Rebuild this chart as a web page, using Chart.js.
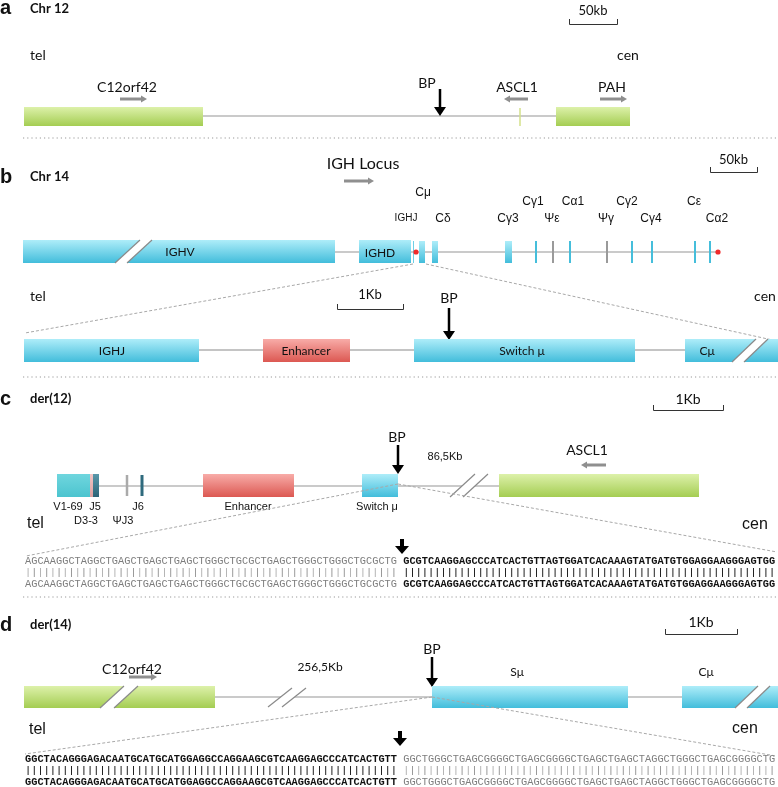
<!DOCTYPE html>
<html>
<head>
<meta charset="utf-8">
<script src="https://cdn.jsdelivr.net/npm/chart.js@4.4.0/dist/chart.umd.min.js"></script>
<style>
html, body { margin: 0; padding: 0; background: #fff; }
#wrap { width: 778px; height: 787px; }
</style>
</head>
<body>
<div id="wrap"><canvas id="fig"></canvas></div>
<script>
// track coordinates (figure units, left -> right = tel -> cen)
const chr12Genes = [['C12orf42', 24, 203], ['PAH', 556, 630]];
const chr12Marks = [520];                       // ASCL1
const chr12Arrows = [['C12orf42', 127, 120, 147], ['ASCL1', 517, 528, 504], ['PAH', 612, 600, 627]];
const chr12BP = 440;

const ighBlocks = [['IGHV', 23, 335], ['IGHD', 359, 411], ['', 419, 425], ['', 432, 438], ['', 505, 512]];
const ighBars = [[536, 'C'], [553, 'P'], [570, 'C'], [607, 'P'], [632, 'C'], [652, 'C'], [695, 'C'], [710, 'C']];
const ighUpperLabels = [['Cμ', 423, 193], ['Cγ1', 533, 202], ['Cα1', 573, 202], ['Cγ2', 627, 202], ['Cε', 694, 202]];
const ighLowerLabels = [['Cδ', 443], ['Cγ3', 508], ['Ψε', 552], ['Ψγ', 606], ['Cγ4', 651], ['Cα2', 717]];
const ighDots = [416, 718];

const muBlocks = [['IGHJ', 24, 199, 'gene'], ['Enhancer', 263, 350, 'enh'], ['Switch μ', 414, 635, 'gene'], ['Cμ', 685, 778, 'gene']];
const muBP = 449;

const der12Blocks = [['Enhancer', 203, 294, 'enh'], ['Switch μ', 362, 398, 'gene'], ['', 499, 699, 'green']];
const der12Segs = [['V1-69', 57, 90], ['J5', 90, 93], ['D3-3', 93, 99]];
const der12Bars = [['ΨJ3', 127], ['J6', 142]];
const der12TopLabels = [['V1-69', 68], ['J5', 95], ['J6', 138], ['Enhancer', 248], ['Switch μ', 377]];
const der12BotLabels = [['D3-3', 86], ['ΨJ3', 123]];
const der12BP = 398;

const der14Blocks = [['C12orf42', 24, 215, 'green'], ['Sμ', 432, 628, 'gene'], ['Cμ', 682, 778, 'gene']];
const der14BP = 432;

const seqDer12 = ['AGCAAGGCTAGGCTGAGCTGAGCTGAGCTGGGCTGCGCTGAGCTGGGCTGGGCTGCGCTG',
                  'GCGTCAAGGAGCCCATCACTGTTAGTGGATCACAAAGTATGATGTGGAGGAAGGGAGTGG'];
const seqDer14 = ['GGCTACAGGGAGACAATGCATGCATGGAGGCCAGGAAGCGTCAAGGAGCCCATCACTGTT',
                  'GGCTGGGCTGAGCGGGGCTGAGCGGGGCTGAGCTGAGCTAGGCTGGGCTGAGCGGGGCTG'];

const FILL = {
  gene: ['#aeedf9', '#42bddb'],
  enh: ['#f8aca8', '#dc5852'],
  green: ['#ddf1aa', '#a4cd52'],
  v: ['#6fd6de', '#4cc4cf'],
  dark: ['#5a98aa', '#2c6477'],
  pink: ['#f2c6c6', '#dca0a0']
};

const figurePlugin = {
  id: 'figure',
  afterDraw(chart) {
    const c = chart.ctx;
    const X = v => chart.scales.x.getPixelForValue(v);
    const Y = v => chart.scales.y.getPixelForValue(v);

    function text(s, x, y, font, align, color) {
      c.font = font;
      c.fillStyle = color || '#111';
      c.textAlign = align || 'center';
      c.textBaseline = 'middle';
      c.fillText(s, X(x), Y(y));
    }
    function line(x0, y0, x1, y1, col, w, dash) {
      c.save();
      c.strokeStyle = col; c.lineWidth = w;
      c.setLineDash(dash || []);
      c.beginPath(); c.moveTo(X(x0), Y(y0)); c.lineTo(X(x1), Y(y1)); c.stroke();
      c.restore();
    }
    function box(x0, x1, t, b, kind) {
      const g = c.createLinearGradient(0, Y(t), 0, Y(b));
      g.addColorStop(0, FILL[kind][0]); g.addColorStop(1, FILL[kind][1]);
      c.fillStyle = g;
      c.fillRect(X(x0), Y(t), X(x1) - X(x0), Y(b) - Y(t));
    }
    function slash(xb, xt, w, t, b) {
      c.save();
      c.fillStyle = '#fff';
      c.beginPath();
      c.moveTo(X(xb), Y(b)); c.lineTo(X(xt), Y(t)); c.lineTo(X(xt + w), Y(t)); c.lineTo(X(xb + w), Y(b));
      c.closePath(); c.fill();
      c.restore();
      line(xb, b, xt, t, '#8a8a8a', 1.2);
      line(xb + w, b, xt + w, t, '#8a8a8a', 1.2);
    }
    function grayArrow(x0, x1, y) {
      const dir = x1 > x0 ? 1 : -1;
      line(x0, y, x1 - dir * 5, y, '#8f8f8f', 3);
      c.fillStyle = '#8f8f8f';
      c.beginPath();
      c.moveTo(X(x1), Y(y)); c.lineTo(X(x1 - dir * 6), Y(y - 3.5)); c.lineTo(X(x1 - dir * 6), Y(y + 3.5));
      c.closePath(); c.fill();
    }
    function downArrow(x, y0, y1, w, hw, hh) {
      line(x, y0, x, y1 - hh + 1, '#000', w);
      c.fillStyle = '#000';
      c.beginPath();
      c.moveTo(X(x), Y(y1)); c.lineTo(X(x - hw), Y(y1 - hh)); c.lineTo(X(x + hw), Y(y1 - hh));
      c.closePath(); c.fill();
    }
    function scaleBar(x0, x1, yb, label, ty, font) {
      c.save();
      c.strokeStyle = '#333'; c.lineWidth = 1;
      c.beginPath();
      c.moveTo(X(x0) + 0.5, Y(yb - 5)); c.lineTo(X(x0) + 0.5, Y(yb) + 0.5);
      c.lineTo(X(x1) + 0.5, Y(yb) + 0.5); c.lineTo(X(x1) + 0.5, Y(yb - 5));
      c.stroke();
      c.restore();
      text(label, (x0 + x1) / 2, ty, font);
    }
    function separator(y) {
      line(23, y, 778, y, '#9a9a9a', 1.2, [1.2, 3]);
    }
    function zoomLine(x0, y0, x1, y1) {
      line(x0, y0, x1, y1, '#a8a8a8', 1, [3, 2]);
    }
    function sequence(parts, boldSide, yTop) {
      const step = 6.2;
      const starts = [25, 403.2];
      parts.forEach((s, p) => {
        const bold = p === boldSide;
        for (let i = 0; i < s.length; i++) {
          const cx = starts[p] + i * step + step / 2;
          text(s[i], cx, yTop, (bold ? 'bold ' : '') + '10.3px "Liberation Mono"', 'center', bold ? '#111' : '#7d7d7d');
          text(s[i], cx, yTop + 23, (bold ? 'bold ' : '') + '10.3px "Liberation Mono"', 'center', bold ? '#111' : '#7d7d7d');
          line(cx, yTop + 7, cx, yTop + 16, bold ? '#222' : (i % 2 ? '#9a9a9a' : '#b5b5b5'), 1);
        }
      });
    }

    const LAB = '13px Lato';
    const HEAD = 'bold 20px "Liberation Sans"';
    const SUB = 'bold 13px Lato';

    // ---------------- a ----------------
    text('a', 0, 8, HEAD, 'left');
    text('Chr 12', 30, 9, SUB, 'left');
    scaleBar(569, 617, 24, '50kb', 11, LAB);
    text('tel', 30, 55, '14px Lato', 'left');
    text('cen', 628, 55, '14px Lato');
    line(203, 116, 556, 116, '#b8b8b8', 1.5);
    chr12Genes.forEach(g => box(g[1], g[2], 107, 126, 'green'));
    chr12Marks.forEach(m => line(m, 108, m, 126, '#d3e08a', 1.5));
    chr12Arrows.forEach(a => { text(a[0], a[1], 87, '14px Lato'); grayArrow(a[2], a[3], 99); });
    text('BP', chr12BP - 13, 83, '14px Lato');
    downArrow(chr12BP, 89, 116, 2.5, 6, 9);
    separator(138);

    // ---------------- b ----------------
    text('b', 0, 177, HEAD, 'left');
    text('Chr 14', 30, 177, SUB, 'left');
    text('IGH Locus', 363, 164, '16px Lato');
    grayArrow(344, 374, 181);
    scaleBar(710, 757, 172, '50kb', 160, LAB);
    ighUpperLabels.forEach(l => text(l[0], l[1], l[2], '12px "Liberation Sans"'));
    text('IGHJ', 406, 218, '10px "Liberation Sans"');
    ighLowerLabels.forEach(l => text(l[0], l[1], 219, '12px "Liberation Sans"'));
    line(335, 252, 718, 252, '#b8b8b8', 1.5);
    ighBlocks.forEach(b => {
      const big = b[2] - b[1] > 20;
      box(b[1], b[2], big ? 240 : 241, 263, 'gene');
      if (b[0] === 'IGHV') text(b[0], 180, 252, '12px Lato');
      if (b[0] === 'IGHD') text(b[0], 380, 253, '12px Lato');
    });
    slash(115, 140, 12, 240, 263);
    line(413.5, 241, 413.5, 263, '#6fcfe6', 1);
    ighBars.forEach(b => line(b[0], 241, b[0], 263, b[1] === 'P' ? '#9a9a9a' : '#45bedb', 2));
    ighDots.forEach(d => {
      c.fillStyle = '#f02a2a';
      c.beginPath(); c.arc(X(d), Y(252), 2.6, 0, Math.PI * 2); c.fill();
    });
    zoomLine(413, 264, 25, 333);
    zoomLine(426, 264, 777, 341);

    text('tel', 30, 296, '14px Lato', 'left');
    scaleBar(337, 403, 309, '1Kb', 295, LAB);
    text('BP', muBP, 298, '14px Lato');
    downArrow(muBP, 308, 340, 2.5, 6, 9);
    text('cen', 765, 296, '14px Lato');
    line(199, 350, 685, 350, '#c4c4c4', 2);
    muBlocks.forEach(b => box(b[1], b[2], 339, 362, b[3]));
    slash(732, 756, 12, 339, 362);
    text('IGHJ', 112, 351, '12px Lato');
    text('Enhancer', 306, 351, '12px Lato');
    text('Switch μ', 522, 351, '12px Lato');
    text('Cμ', 707, 351, '12px Lato');
    separator(377);

    // ---------------- c ----------------
    text('c', 0, 399, HEAD, 'left');
    text('der(12)', 30, 399, SUB, 'left');
    scaleBar(653, 723, 410, '1Kb', 399, '14px Lato');
    text('BP', der12BP - 1, 437, '14px Lato');
    downArrow(der12BP, 445, 474, 2.5, 6, 9);
    text('86,5Kb', 445, 457, '11px "Liberation Sans"');
    text('ASCL1', 587, 450, '14px Lato');
    grayArrow(606, 581, 465);
    line(99, 486, 499, 486, '#b8b8b8', 1.5);
    der12Segs.forEach((s, i) => box(s[1], s[2], 474, 497, ['v', 'pink', 'dark'][i]));
    der12Bars.forEach((b, i) => line(b[1], 475, b[1], 496, i ? '#2f6a7d' : '#aaaaaa', i ? 3 : 2.5));
    der12Blocks.forEach(b => box(b[1], b[2], 474, 497, b[3]));
    slash(450, 475, 13, 474, 497);
    der12TopLabels.forEach(l => text(l[0], l[1], 507, '11px "Liberation Sans"'));
    der12BotLabels.forEach(l => text(l[0], l[1], 521, '11px "Liberation Sans"'));
    text('tel', 27, 524, '16px "Liberation Sans"', 'left');
    text('cen', 755, 525, '16px "Liberation Sans"');
    zoomLine(398, 484, 26, 556);
    zoomLine(398, 484, 777, 552);
    downArrow(402, 539, 554, 4, 7, 8);
    sequence(seqDer12, 1, 561);
    separator(597);

    // ---------------- d ----------------
    text('d', 0, 625, HEAD, 'left');
    text('der(14)', 30, 625, SUB, 'left');
    scaleBar(665, 737, 634, '1Kb', 622, '14px Lato');
    text('BP', der14BP, 649, '14px Lato');
    downArrow(der14BP, 657, 687, 2.5, 6, 9);
    text('C12orf42', 132, 669, '14px Lato');
    grayArrow(129, 157, 677);
    text('256,5Kb', 320, 667, '12px Lato');
    text('Sμ', 517, 672, '12px Lato');
    text('Cμ', 706, 672, '12px Lato');
    line(215, 697, 682, 697, '#b8b8b8', 1.5);
    der14Blocks.forEach(b => box(b[1], b[2], 686, 708, b[3]));
    slash(100, 124, 14, 686, 708);
    slash(268, 292, 14, 688, 707);
    slash(735, 758, 12, 686, 708);
    text('tel', 29, 730, '16px "Liberation Sans"', 'left');
    text('cen', 745, 729, '16px "Liberation Sans"');
    zoomLine(432, 697, 25, 754);
    zoomLine(432, 697, 776, 756);
    downArrow(400, 731, 746, 4, 7, 8);
    sequence(seqDer14, 0, 759);
  }
};

new Chart(document.getElementById('fig'), {
  type: 'scatter',
  data: { datasets: [] },
  options: {
    responsive: true,
    maintainAspectRatio: false,
    animation: false,
    layout: { padding: 0 },
    plugins: { legend: { display: false }, tooltip: { enabled: false } },
    scales: {
      x: { type: 'linear', min: 0, max: 778, display: false },
      y: { type: 'linear', min: 0, max: 787, reverse: true, display: false }
    }
  },
  plugins: [figurePlugin]
});
</script>
</body>
</html>
